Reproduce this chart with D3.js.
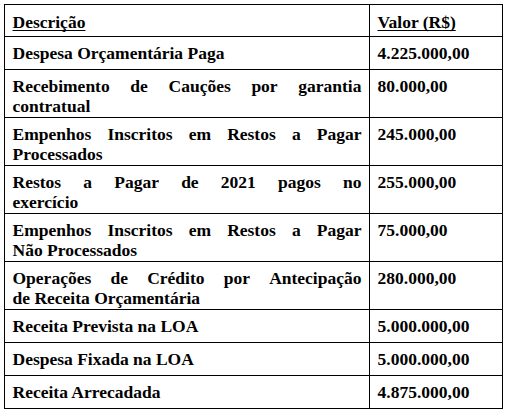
<!DOCTYPE html>
<html><head><meta charset="utf-8">
<script src="https://cdn.jsdelivr.net/npm/d3@7"></script>
<style>body{margin:0;background:#fff} svg text{font-family:'Liberation Serif','Times New Roman',serif;font-weight:bold;font-size:17.5px}</style>
</head><body><div id="chart"></div>
<script>
// dados da tabela
const header = ["Descrição", "Valor (R$)"];
const descricoes = [
  ["Despesa Orçamentária Paga"],
  ["Recebimento de Cauções por garantia", "contratual"],
  ["Empenhos Inscritos em Restos a Pagar", "Processados"],
  ["Restos a Pagar de 2021 pagos no", "exercício"],
  ["Empenhos Inscritos em Restos a Pagar", "Não Processados"],
  ["Operações de Crédito por Antecipação", "de Receita Orçamentária"],
  ["Receita Prevista na LOA"],
  ["Despesa Fixada na LOA"],
  ["Receita Arrecadada"]
];
const valores = ["4.225.000,00","80.000,00","245.000,00","255.000,00","75.000,00","280.000,00","5.000.000,00","5.000.000,00","4.875.000,00"];

const W = 515, H = 417;
const x0 = 4.5, x1 = 369.5, x2 = 502.5, y0 = 4.5;
const headH = 32;

const svg = d3.select("#chart").append("svg").attr("width", W).attr("height", H);

// alturas das linhas
const heights = [headH].concat(descricoes.map(d => d.length === 1 ? 33 : 48));
const ys = [y0];
heights.forEach(h => ys.push(ys[ys.length - 1] + h));

const g = svg.append("g");
// bordas
g.append("rect").attr("x", x0).attr("y", y0).attr("width", x2 - x0).attr("height", ys[ys.length-1] - y0)
  .attr("fill", "none").attr("stroke", "#000");
g.append("line").attr("x1", x1).attr("x2", x1).attr("y1", y0).attr("y2", ys[ys.length-1]).attr("stroke", "#000");
g.selectAll("line.row").data(ys.slice(1, -1)).enter().append("line").attr("class", "row")
  .attr("x1", x0).attr("x2", x2).attr("y1", d => d).attr("y2", d => d).attr("stroke", "#000");

// cabeçalho sublinhado
[[header[0], x0 + 8], [header[1], x1 + 8]].forEach(([t, x]) => {
  const tx = g.append("text").attr("x", x).attr("y", y0 + 23).text(t);
  const w = tx.node().getComputedTextLength();
  g.append("line").attr("x1", x).attr("x2", x + w).attr("y1", y0 + 26).attr("y2", y0 + 26)
    .attr("stroke", "#000").attr("stroke-width", 1.2);
});

// linhas de dados
const cellW = x1 - x0 - 16;
descricoes.forEach((lines, i) => {
  const top = ys[i + 1];
  lines.forEach((ln, j) => {
    const y = top + 22 + j * 20;
    const justify = lines.length > 1 && j === 0;
    if (!justify) {
      g.append("text").attr("x", x0 + 8).attr("y", y).text(ln);
    } else {
      const words = ln.split(" ");
      const ws = words.map(w => {
        const t = g.append("text").text(w); const l = t.node().getComputedTextLength(); t.remove(); return l;
      });
      const gap = (cellW - d3.sum(ws)) / (words.length - 1);
      let x = x0 + 8;
      words.forEach((w, k) => { g.append("text").attr("x", x).attr("y", y).text(w); x += ws[k] + gap; });
    }
  });
  g.append("text").attr("x", x1 + 8).attr("y", top + 22).text(valores[i]);
});
</script></body></html>
